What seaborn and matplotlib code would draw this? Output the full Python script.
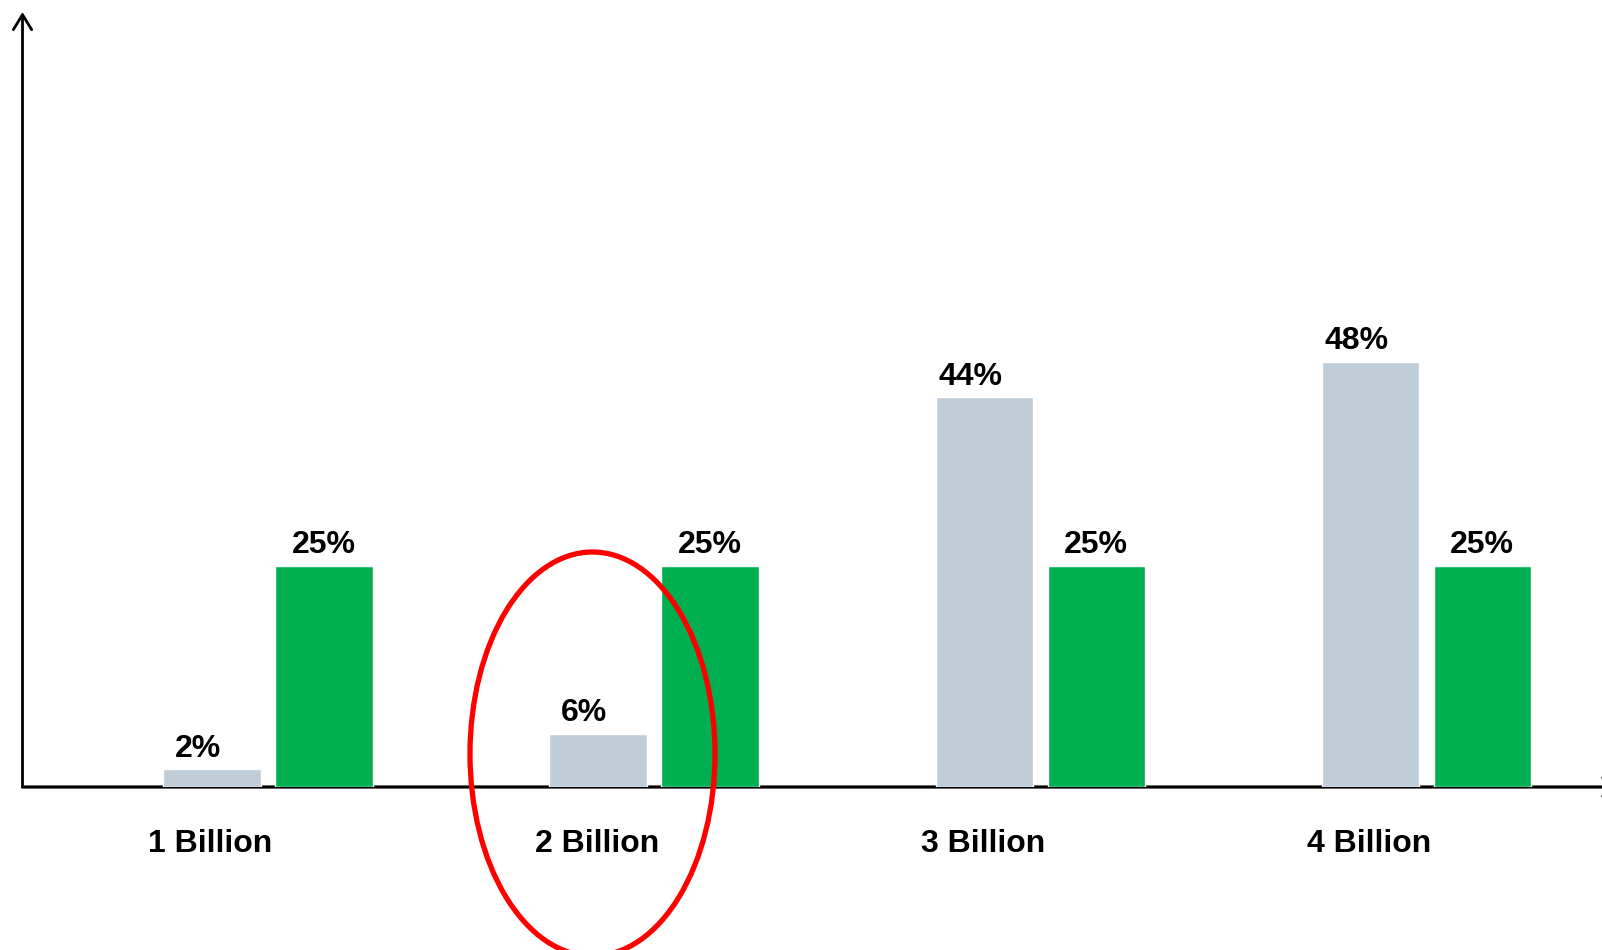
import matplotlib
matplotlib.use("Agg")
import matplotlib.pyplot as plt
from matplotlib.patches import Ellipse
from matplotlib.transforms import ScaledTranslation
import seaborn as sns
import pandas as pd

# Chart data
sizes = ["1 Billion", "2 Billion", "3 Billion", "4 Billion"]
series = ["Current", "Target"]
current_pct = [2, 6, 44, 48]
target_pct = [25, 25, 25, 25]

GREY = "#BFCDD9"
GREEN = "#00AF50"
RED = "#FF0000"

df = pd.DataFrame({
    "size": sizes * 2,
    "series": [series[0]] * len(sizes) + [series[1]] * len(sizes),
    "pct": current_pct + target_pct,
})

sns.set_theme(style="white")
plt.rcParams["font.family"] = ["Liberation Sans", "DejaVu Sans"]

fig = plt.figure(figsize=(16.02, 9.5), dpi=100)
W, H = 1602, 950
ax_left, ax_bottom, ax_top = 22.5, 787, 12
ax = fig.add_axes([ax_left / W, 1 - ax_bottom / H, 1 - ax_left / W, (ax_bottom - ax_top) / H])

sns.barplot(data=df, x="size", y="pct", hue="series", order=sizes, hue_order=series,
            palette=[GREY, GREEN], width=0.58, gap=0.13, saturation=1,
            legend=False, ax=ax, zorder=3)

ax.set_xlim(-0.636, 3.455)
ax.set_ylim(0, 87.5)

# Percentage labels above each bar
for k, cont in enumerate(ax.containers):
    vals = current_pct if k == 0 else target_pct
    anns = ax.bar_label(cont, labels=[f"{v:g}%" for v in vals], padding=4,
                        fontsize=23, fontweight="bold", color="black")
    if k == 0:
        for a in anns:
            a.xyann = (-10, a.xyann[1])

# Axes drawn as arrows; no box, no y ticks
for s in ax.spines.values():
    s.set_visible(False)
ax.set_yticks([])
ax.set_xlabel("")
ax.set_ylabel("")
ax.annotate("", xy=(0, 1.0), xytext=(0, 0), xycoords="axes fraction",
            arrowprops=dict(arrowstyle="->,head_length=0.9,head_width=0.55", lw=2,
                            color="black", shrinkA=0, shrinkB=0), zorder=1)
ax.annotate("", xy=(1.012, 0), xytext=(0, 0), xycoords="axes fraction",
            arrowprops=dict(arrowstyle="->,head_length=0.9,head_width=0.55", lw=2.3,
                            color="black", shrinkA=0, shrinkB=0),
            annotation_clip=False, zorder=1)

# Category labels sit below the axis, slightly left of each bar pair
ax.tick_params(axis="x", length=0, pad=30)
for lbl in ax.get_xticklabels():
    lbl.set_fontsize(23)
    lbl.set_fontweight("bold")
    lbl.set_color("black")
    lbl.set_transform(lbl.get_transform() + ScaledTranslation(-0.575, 0, fig.dpi_scale_trans))

# Highlight around the 2 Billion group
ring = Ellipse((592.5 / W, 1 - 754 / H), 245 / W, 404 / H, transform=fig.transFigure,
               fill=False, edgecolor=RED, lw=3.8, zorder=10)
fig.patches.append(ring)

fig.savefig("out.png", dpi=100, facecolor="white")
